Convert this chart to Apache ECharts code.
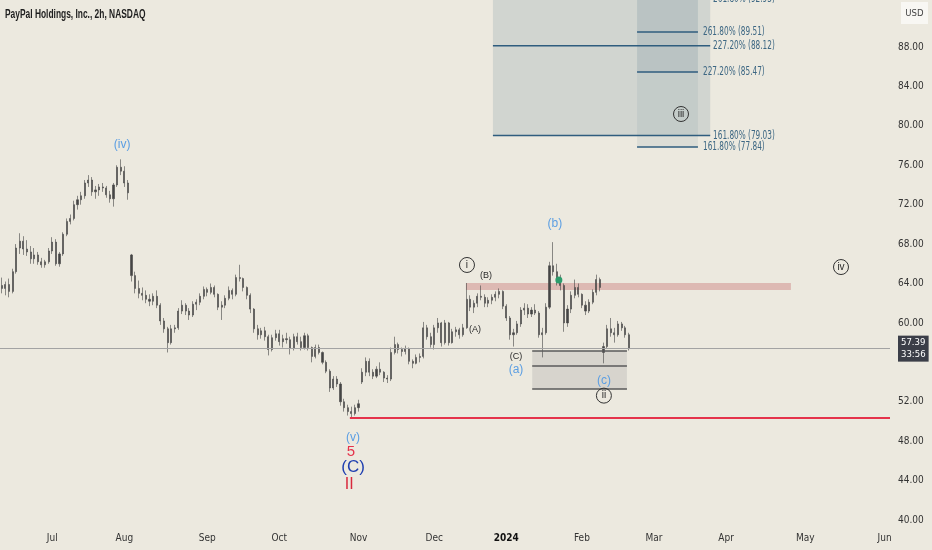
<!DOCTYPE html>
<html><head><meta charset="utf-8">
<script src="https://cdn.jsdelivr.net/npm/echarts@6/dist/echarts.min.js"></script>
<style>html,body{margin:0;padding:0;background:#ece9df;}#c{width:932px;height:550px;}</style>
</head><body><div id="c"></div>
<script>
// ---------- calendar (trading days) ----------
const START_DATE = '2023-06-12';
const N_DAYS = 247;
const HOLIDAYS = ['2023-06-19','2023-07-04','2023-09-04','2023-11-23','2023-12-25','2024-01-01','2024-01-15','2024-02-19','2024-03-29','2024-05-27'];
const MONTH_NAMES = ['Jan','Feb','Mar','Apr','May','Jun','Jul','Aug','Sep','Oct','Nov','Dec'];
// 56.00 is hidden behind the last-price tag in the reference
const PRICE_TICKS = [40,44,48,52,60,64,68,72,76,80,84,88];

// ---------- daily OHLC ----------
const open = [63.8,63.5,63.9,63.2,65.2,67.6,68.3,67.5,67.2,66.5,66.9,66.2,65.9,66.2,67.3,68.2,66.0,67.0,69.0,70.3,70.6,72.0,72.5,72.9,74.2,74.5,73.3,73.5,73.8,73.7,73.0,72.6,74.0,75.8,75.4,74.2,
66.9,64.8,63.5,63.0,62.8,62.4,62.2,62.7,61.8,60.2,59.4,58.0,59.4,59.5,61.2,61.8,61.2,60.8,61.9,62.1,62.7,63.4,63.1,63.6,62.9,61.6,61.8,62.5,63.3,62.9,64.6,64.5,63.6,62.8,61.4,59.4,58.8,59.2,58.6,57.3,58.5,58.9,58.1,58.4,58.3,57.4,58.6,58.1,57.5,58.7,57.5,56.6,57.5,57.0,56.0,55.1,53.4,54.3,53.8,52.0,51.4,51.0,50.8,51.4,
54.0,55.0,56.1,55.0,54.6,55.3,55.0,54.4,54.3,57.0,57.8,57.3,57.1,57.4,56.1,55.9,56.5,56.6,59.5,58.6,57.8,59.5,60.0,58.0,60.0,58.0,59.1,59.3,58.8,59.5,62.4,61.6,62.0,62.7,62.6,62.0,62.3,62.6,62.9,63.2,61.7,60.5,58.8,59.0,59.9,61.3,61.5,60.9,61.3,61.0,58.8,59.0,61.6,65.8,65.2,64.5,63.8,60.0,61.4,62.8,63.6,62.9,61.8,61.2,62.1,63.1,64.4,57.0,57.6,59.4,59.0,58.8,59.9,59.5,58.8];
const high = [64.6,64.2,64.5,65.5,68.0,69.1,68.8,68.4,67.8,67.6,67.2,66.6,66.4,67.6,68.7,68.5,67.2,69.2,70.6,71.0,72.4,72.9,73.3,74.5,75.0,74.8,73.9,74.1,74.2,73.9,73.4,74.2,76.0,76.6,75.9,74.5,
67.0,65.2,64.3,63.6,63.3,62.9,63.0,63.3,62.0,60.5,59.6,59.8,59.8,61.5,62.3,62.0,61.5,62.2,62.4,63.0,63.7,63.6,64.0,63.8,63.0,62.2,62.8,63.7,63.5,64.9,65.9,64.6,63.7,63.0,61.5,59.8,59.5,59.6,58.8,58.8,59.3,59.3,58.8,59.0,58.6,58.9,59.0,58.6,59.0,58.9,57.6,57.8,57.8,57.1,56.2,55.3,54.6,54.6,54.0,52.3,51.7,51.5,51.7,52.2,
55.4,56.5,56.4,55.3,55.6,56.0,55.1,54.7,57.5,58.6,58.0,57.5,57.7,57.5,56.3,56.8,56.9,60.1,59.8,59.0,59.8,60.5,60.1,60.3,60.1,59.4,59.6,59.5,59.9,64.05,62.8,62.3,63.0,63.8,62.9,62.6,62.9,63.2,63.5,63.3,61.9,60.7,59.4,60.2,61.6,62.0,61.9,61.6,61.9,61.2,59.5,62.0,66.2,68.2,66.0,64.9,64.0,61.8,63.2,64.4,64.0,63.0,62.2,62.4,63.4,64.9,64.6,58.0,59.8,60.5,59.5,60.2,60.1,59.7,59.0];
const low = [63.0,62.8,62.6,63.0,65.0,67.0,66.9,66.8,66.0,66.0,65.9,65.6,65.6,66.0,67.0,65.8,65.7,66.8,68.8,70.0,70.4,71.5,72.0,72.6,73.8,72.9,72.6,72.9,73.3,72.7,72.2,71.8,73.8,75.0,73.8,72.5,
64.2,63.0,62.5,62.3,62.0,61.7,61.8,61.5,59.8,59.0,57.0,57.8,59.0,59.3,60.9,60.8,60.3,60.6,61.3,61.8,62.4,62.7,62.9,62.6,61.3,60.3,61.5,62.3,62.4,62.7,64.2,63.2,62.4,61.0,59.0,58.3,58.4,58.2,56.7,57.1,58.2,57.7,57.5,57.9,56.8,57.2,57.8,57.2,57.3,57.2,56.0,56.4,56.8,55.8,54.9,53.0,53.2,53.5,51.6,51.0,50.6,50.3,50.6,51.0,
53.8,54.6,54.6,54.3,54.4,54.7,54.0,53.9,54.1,56.8,56.9,56.6,56.8,55.8,55.4,55.8,56.0,56.4,58.3,57.5,57.3,59.0,57.6,57.8,57.7,57.9,58.6,58.4,58.6,59.4,61.2,61.0,61.6,62.3,61.6,61.6,61.9,62.2,62.5,61.4,60.2,58.3,57.6,58.8,59.6,60.8,60.5,60.6,60.8,58.5,56.5,58.8,61.4,64.8,63.8,63.3,59.1,59.6,61.0,62.5,62.6,61.5,60.8,61.0,61.9,62.8,63.2,55.9,57.4,58.6,58.0,58.6,59.2,58.5,57.2];
const close = [63.5,63.9,63.2,65.2,67.6,68.3,67.5,67.2,66.5,66.9,66.2,65.9,66.2,67.3,68.2,66.0,67.0,69.0,70.3,70.6,72.0,72.5,72.9,74.2,74.5,73.3,73.5,73.8,73.7,73.0,72.6,74.0,75.8,75.4,74.2,73.2,
64.8,63.5,63.0,62.8,62.4,62.2,62.7,61.8,60.2,59.4,58.0,59.4,59.5,61.2,61.8,61.2,60.8,61.9,62.1,62.7,63.4,63.1,63.6,62.9,61.6,61.8,62.5,63.3,62.9,64.6,64.5,63.6,62.8,61.4,59.4,58.8,59.2,58.6,57.3,58.5,58.9,58.1,58.4,58.3,57.4,58.6,58.1,57.5,58.7,57.5,56.6,57.5,57.0,56.0,55.1,53.4,54.3,53.8,52.0,51.4,51.0,50.8,51.4,51.8,
55.0,56.1,55.0,54.6,55.3,55.0,54.4,54.3,57.0,57.8,57.3,57.1,57.4,56.1,55.9,56.5,56.6,59.5,58.6,57.8,59.5,60.0,58.0,60.0,58.0,59.1,59.3,58.8,59.5,62.4,61.6,62.0,62.7,62.6,62.0,62.3,62.6,62.9,63.2,61.7,60.5,58.8,59.0,59.9,61.3,61.5,60.9,61.3,61.0,58.8,59.0,61.6,65.8,65.2,64.5,63.8,60.0,61.4,62.8,63.6,62.9,61.8,61.2,62.1,63.1,64.4,63.6,57.6,59.4,59.0,58.8,59.9,59.5,58.8,57.39];
const LAST_PRICE_LABEL = ['57.39', '33:56'];

// ---------- drawings (x = trading-day index, y = price) ----------
const fibAX = [136.3, 196.6];
const fibALevels = [79.03, 88.12, 92.93];
const fibALabels = ['161.80% (79.03)', '227.20% (88.12)', '261.80% (92.93)'];
const fibBX = [176.3, 193.2];
const fibBLevels = [77.84, 85.47, 89.51];
const fibBLabels = ['161.80% (77.84)', '227.20% (85.47)', '261.80% (89.51)'];
const resistanceBand = [128.8, 219.0, 63.34, 64.05];
const supportBoxX = [147.2, 173.5];
const supportBoxLevels = [57.15, 55.63, 53.29];
const supportLine = [96.6, 50.35];
const waveLabels = [
  ['(iv)', 33.4, 78.05, 'blue'],
  ['i', 129.1, 65.88, 'circle'],
  ['(B)', 134.4, 64.76, 'small'],
  ['(A)', 131.3, 59.38, 'small'],
  ['(C)', 142.7, 56.64, 'small'],
  ['(a)', 142.7, 55.22, 'blue'],
  ['(b)', 153.5, 70.04, 'blue'],
  ['(c)', 167.1, 54.11, 'blue'],
  ['ii', 167.1, 52.62, 'circle'],
  ['iii', 188.5, 81.2, 'circle'],
  ['iv', 232.9, 65.67, 'circle'],
  ['(v)', 97.5, 48.32, 'blue'],
  ['5', 96.9, 46.9, 'red'],
  ['(C)', 97.5, 45.38, 'bigC'],
  ['II', 96.4, 43.6, 'redII']
];
const greenDot = [154.6, 64.35];

// ---------- build ----------
function buildDates(start, n, holidays) {
  const out = []; const d = new Date(start + 'T00:00:00Z');
  while (out.length < n) {
    const dow = d.getUTCDay(); const s = d.toISOString().slice(0, 10);
    if (dow !== 0 && dow !== 6 && holidays.indexOf(s) < 0) out.push(s);
    d.setUTCDate(d.getUTCDate() + 1);
  }
  return out;
}
const dates = buildDates(START_DATE, N_DAYS, HOLIDAYS);
const isMonthStart = dates.map((s, i) => i > 0 && s.slice(0, 7) !== dates[i - 1].slice(0, 7));
const candleData = open.map((o, i) => [o, close[i], low[i], high[i]]);

// price window of the plot (88 sits 47px below the top, 40 sits 8px above the axis strip)
const PX_PER_UNIT = 473 / 48;
const Y_MAX = 88 + 47 / PX_PER_UNIT;
const Y_MIN = 40 - 8 / PX_PER_UNIT;

const BG = '#ece9df';
const NARROW = "'DejaVu Sans Condensed','Liberation Sans Narrow',sans-serif";
const SANS = "'Liberation Sans',Arial,sans-serif";
const FIB_COLOR = '#2f5d7e';
const FIB_TEXT = '#3d6783';

const zones = [
  { x: fibAX, p: [fibALevels[0], 100], fill: 'rgba(140,160,170,0.28)' },
  { x: fibBX, p: [fibBLevels[1], 100], fill: 'rgba(70,105,130,0.16)' },
  { x: fibBX, p: [fibBLevels[0], fibBLevels[1]], fill: 'rgba(110,140,160,0.12)' },
  { x: [resistanceBand[0], resistanceBand[1]], p: [resistanceBand[2], resistanceBand[3]], fill: 'rgba(200,120,120,0.42)' },
  { x: supportBoxX, p: [supportBoxLevels[2], supportBoxLevels[0]], fill: 'rgba(165,165,165,0.3)' }
];
const lines = [];
fibALevels.forEach((v, i) => lines.push({ x: fibAX, p: v, color: FIB_COLOR, w: 1.5, label: fibALabels[i], lx: 197.4 }));
fibBLevels.forEach((v, i) => lines.push({ x: fibBX, p: v, color: FIB_COLOR, w: 1.5, label: fibBLabels[i], lx: 194.6 }));
supportBoxLevels.forEach(v => lines.push({ x: supportBoxX, p: v, color: '#5a5a5a', w: 1.5 }));
lines.push({ x: [supportLine[0], N_DAYS - 0.5], p: supportLine[1], color: '#e5334b', w: 2 });

const labelStyles = {
  blue: { fill: '#5b9ee3', font: '12px ' + SANS },
  small: { fill: '#2a2a2a', font: '9px ' + SANS },
  circle: { fill: '#2a2a2a', font: '10px ' + SANS },
  red: { fill: '#e5334b', font: '15px ' + SANS },
  bigC: { fill: '#1f3fb0', font: '17px ' + SANS },
  redII: { fill: '#d8283c', font: '16px ' + SANS }
};

const chart = echarts.init(document.getElementById('c'));
chart.setOption({
  backgroundColor: BG,
  animation: false,
  grid: { left: 0, width: 890, top: 0, height: 528 },
  xAxis: [
    { type: 'category', data: dates, boundaryGap: true,
      axisLine: { show: false }, axisTick: { show: false }, splitLine: { show: false },
      axisLabel: { interval: (i) => isMonthStart[i], margin: 5, color: '#333', fontSize: 10, fontFamily: NARROW,
        formatter: (v) => { const m = +v.slice(5, 7) - 1; return m === 0 ? '{b|' + v.slice(0, 4) + '}' : MONTH_NAMES[m]; },
        rich: { b: { fontWeight: 'bold', color: '#111', fontSize: 10, fontFamily: NARROW } } } },
    { type: 'value', min: -0.5, max: N_DAYS - 0.5, show: false }
  ],
  yAxis: { type: 'value', position: 'right', min: Y_MIN, max: Y_MAX,
    axisLine: { show: false }, axisTick: { show: false, customValues: PRICE_TICKS }, splitLine: { show: false },
    axisLabel: { customValues: PRICE_TICKS, margin: 8, color: '#333', fontSize: 10, fontFamily: NARROW,
      formatter: (v) => Number(v).toFixed(2) } },
  series: [
    { type: 'custom', xAxisIndex: 1, z: 1, silent: true,
      data: zones.map((z, i) => [i]),
      renderItem: (params, api) => {
        const z = zones[params.dataIndex];
        const a = api.coord([z.x[0], z.p[1]]); const b = api.coord([z.x[1], z.p[0]]);
        return { type: 'rect', shape: { x: a[0], y: a[1], width: b[0] - a[0], height: b[1] - a[1] }, style: { fill: z.fill } };
      } },
    { type: 'candlestick', xAxisIndex: 0, z: 3, data: candleData, barWidth: 1.6,
      itemStyle: { color: '#454545', color0: '#454545', borderColor: '#454545', borderColor0: '#454545', borderWidth: 0.6 },
      markLine: { symbol: 'none', silent: true, animation: false,
        lineStyle: { color: '#a3a3a3', width: 1, type: 'solid' },
        label: { show: true, position: 'end', distance: 8, formatter: LAST_PRICE_LABEL.join('\n'),
          backgroundColor: '#3b3e48', color: '#ffffff', fontSize: 9.5, lineHeight: 12, padding: [1, 3, 1, 3], fontFamily: NARROW },
        data: [{ yAxis: close[close.length - 1] }] } },
    { type: 'custom', xAxisIndex: 1, z: 4, silent: true,
      data: lines.map((l, i) => [i]),
      renderItem: (params, api) => {
        const l = lines[params.dataIndex];
        const a = api.coord([l.x[0], l.p]); const b = api.coord([l.x[1], l.p]);
        const children = [{ type: 'line', shape: { x1: a[0], y1: a[1], x2: b[0], y2: b[1] }, style: { stroke: l.color, lineWidth: l.w } }];
        if (l.label) {
          const t = api.coord([l.lx, l.p]);
          children.push({ type: 'text', x: t[0], y: t[1], scaleX: 0.68, style: { text: l.label, fill: FIB_TEXT, font: '12px ' + NARROW, align: 'left', verticalAlign: 'middle' } });
        }
        return { type: 'group', children };
      } },
    { type: 'custom', xAxisIndex: 1, z: 5, silent: true,
      data: waveLabels.map((w, i) => [i]),
      renderItem: (params, api) => {
        const w = waveLabels[params.dataIndex];
        const c = api.coord([w[1], w[2]]);
        const st = labelStyles[w[3]];
        const children = [];
        if (w[3] === 'circle') children.push({ type: 'circle', shape: { cx: c[0], cy: c[1], r: 7.5 }, style: { fill: 'none', stroke: '#333', lineWidth: 1 } });
        children.push({ type: 'text', x: c[0], y: c[1], style: { text: w[0], fill: st.fill, font: st.font, align: 'center', verticalAlign: 'middle' } });
        return { type: 'group', children };
      } },
    { type: 'custom', xAxisIndex: 1, z: 6, silent: true,
      data: [[0]],
      renderItem: (params, api) => {
        const c = api.coord(greenDot);
        return { type: 'circle', shape: { cx: c[0], cy: c[1], r: 3.5 }, style: { fill: '#2c9c6b' } };
      } }
  ],
  graphic: [
    { type: 'text', x: 5, y: 15, scaleX: 0.7, style: { text: 'PayPal Holdings, Inc., 2h, NASDAQ', fill: '#1e1e1e', font: 'bold 12px ' + SANS, align: 'left', verticalAlign: 'middle' }, z: 11 },
    { type: 'rect', shape: { x: 901, y: 2, width: 27, height: 22 }, style: { fill: '#f8f7f3' }, z: 10 },
    { type: 'text', x: 914.5, y: 13.5, style: { text: 'USD', fill: '#444', font: '9.5px ' + NARROW, align: 'center', verticalAlign: 'middle' }, z: 11 }
  ]
});
</script></body></html>
